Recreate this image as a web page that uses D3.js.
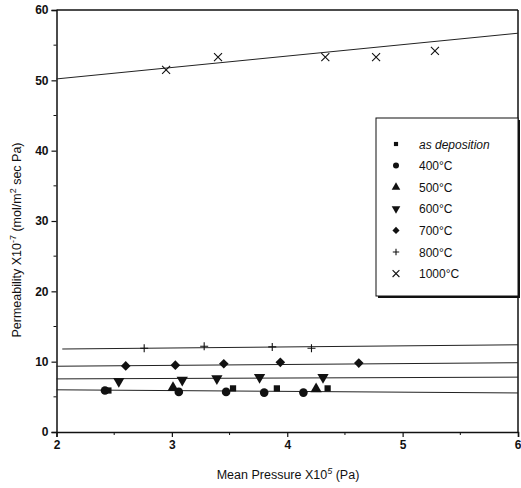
<!DOCTYPE html>
<html>
<head>
<meta charset="utf-8">
<script src="https://cdn.jsdelivr.net/npm/d3@7"></script>
<style>
  body { margin: 0; background: #fff; }
  svg { font-family: "Liberation Sans", Arial, sans-serif; }
</style>
</head>
<body>
<svg width="521" height="488"></svg>
<script>
// dados
const xTicks = [2, 3, 4, 5, 6];
const yTicks = [0, 10, 20, 30, 40, 50, 60];
const xMinor = [2.5, 3.5, 4.5, 5.5];
const yMinor = [5, 15, 25, 35, 45, 55];

const asDeposition = [[2.45, 5.9], [3.53, 6.2], [3.91, 6.2], [4.35, 6.2]];
const c400 = [[2.42, 5.9], [3.06, 5.7], [3.47, 5.7], [3.80, 5.6], [4.14, 5.6]];
const c500 = [[3.01, 6.3], [4.25, 6.1]];
const c600 = [[2.54, 7.2], [3.09, 7.4], [3.39, 7.6], [3.76, 7.8], [4.31, 7.8]];
const c700 = [[2.60, 9.4], [3.03, 9.5], [3.45, 9.7], [3.94, 9.9], [4.62, 9.8]];
const c800 = [[2.76, 11.9], [3.28, 12.2], [3.87, 12.1], [4.21, 11.9]];
const c1000 = [[2.95, 51.5], [3.40, 53.3], [4.33, 53.3], [4.77, 53.3], [5.28, 54.2]];

// retas ajustadas [x0, y0, x1, y1]
const fitLines = [
    [2, 50.2, 6, 56.7],
    [2.05, 11.8, 6, 12.4],
    [2, 9.35, 6, 9.85],
    [2, 7.55, 6, 7.8],
    [2, 6.0, 6, 5.55]
];

const legendLabels = ["as deposition", "400°C", "500°C", "600°C", "700°C", "800°C", "1000°C"];

const svg = d3.select("svg");

const xScale = d3.scaleLinear().domain([2, 6]).range([56.5, 518]);
const yScale = d3.scaleLinear().domain([0, 60]).range([432, 10]);

const ink = "#111";

// moldura superior e direita
svg.append("line")
    .attr("x1", xScale(2)).attr("x2", xScale(6))
    .attr("y1", yScale(60)).attr("y2", yScale(60))
    .attr("stroke", ink).attr("stroke-width", 1.5);
svg.append("line")
    .attr("x1", xScale(6)).attr("x2", xScale(6))
    .attr("y1", yScale(60)).attr("y2", yScale(0))
    .attr("stroke", ink).attr("stroke-width", 1.5);

// eixos
const xAxis = d3.axisBottom(xScale).tickValues(xTicks).tickFormat(d3.format("d")).tickSize(5).tickPadding(3);
const yAxis = d3.axisLeft(yScale).tickValues(yTicks).tickFormat(d3.format("d")).tickSize(5).tickPadding(3);

const gx = svg.append("g").attr("transform", `translate(0,${yScale(0)})`).call(xAxis);
const gy = svg.append("g").attr("transform", `translate(${xScale(2)},0)`).call(yAxis);

[gx, gy].forEach(g => {
    g.select(".domain").attr("stroke", ink).attr("stroke-width", 1.5);
    g.selectAll(".tick line").attr("stroke", ink).attr("stroke-width", 1.2);
    g.selectAll(".tick text")
        .attr("fill", ink)
        .style("font-size", "12px")
        .style("font-weight", "bold")
        .style("font-family", "'Liberation Sans', Arial, sans-serif");
});
// o "6" fica colado na borda
gx.selectAll(".tick text").filter(d => d === 6).attr("text-anchor", "end").attr("dx", "3");

// ticks menores
svg.append("g").selectAll("line")
    .data(xMinor).enter().append("line")
    .attr("x1", d => xScale(d)).attr("x2", d => xScale(d))
    .attr("y1", yScale(0)).attr("y2", yScale(0) + 3)
    .attr("stroke", ink);
svg.append("g").selectAll("line")
    .data(yMinor).enter().append("line")
    .attr("x1", xScale(2) - 3).attr("x2", xScale(2))
    .attr("y1", d => yScale(d)).attr("y2", d => yScale(d))
    .attr("stroke", ink);

// retas
svg.append("g").selectAll("line")
    .data(fitLines).enter().append("line")
    .attr("x1", d => xScale(d[0])).attr("y1", d => yScale(d[1]))
    .attr("x2", d => xScale(d[2])).attr("y2", d => yScale(d[3]))
    .attr("stroke", "#222").attr("stroke-width", 1);

// simbolos
function desenharMarcador(g, tipo, x, y, s) {
    if (tipo === "plus") {
        g.append("path")
            .attr("d", `M${x - s},${y}H${x + s}M${x},${y - s}V${y + s}`)
            .attr("stroke", ink).attr("stroke-width", 1.1).attr("fill", "none");
    } else if (tipo === "cross") {
        g.append("path")
            .attr("d", `M${x - s},${y - s}L${x + s},${y + s}M${x - s},${y + s}L${x + s},${y - s}`)
            .attr("stroke", ink).attr("stroke-width", 1.1).attr("fill", "none");
    } else if (tipo === "down") {
        g.append("path")
            .attr("d", d3.symbol().type(d3.symbolTriangle).size(s * s * 2.2)())
            .attr("transform", `translate(${x},${y}) rotate(180)`)
            .attr("fill", ink);
    } else if (tipo === "up") {
        g.append("path")
            .attr("d", d3.symbol().type(d3.symbolTriangle).size(s * s * 2.2)())
            .attr("transform", `translate(${x},${y})`)
            .attr("fill", ink);
    } else if (tipo === "diamond") {
        g.append("path")
            .attr("d", d3.symbol().type(d3.symbolSquare).size(s * s * 2.2)())
            .attr("transform", `translate(${x},${y}) rotate(45)`)
            .attr("fill", ink);
    } else if (tipo === "square") {
        g.append("path")
            .attr("d", d3.symbol().type(d3.symbolSquare).size(s * s * 3)())
            .attr("transform", `translate(${x},${y})`)
            .attr("fill", ink);
    } else {
        g.append("circle")
            .attr("cx", x).attr("cy", y).attr("r", s)
            .attr("fill", ink);
    }
}

const series = [
    {data: asDeposition, tipo: "square", s: 3.6},
    {data: c400, tipo: "circle", s: 4.3},
    {data: c500, tipo: "up", s: 5},
    {data: c600, tipo: "down", s: 5},
    {data: c700, tipo: "diamond", s: 4.6},
    {data: c800, tipo: "plus", s: 4},
    {data: c1000, tipo: "cross", s: 4}
];

const pontos = svg.append("g");
series.forEach(se => {
    se.data.forEach(p => desenharMarcador(pontos, se.tipo, xScale(p[0]), yScale(p[1]), se.s));
});

// legenda
const leg = svg.append("g");
leg.append("rect")
    .attr("x", 378).attr("y", 120).attr("width", 142).attr("height", 178)
    .attr("fill", ink);
leg.append("rect")
    .attr("x", 376).attr("y", 118).attr("width", 142).attr("height", 178)
    .attr("fill", "#fff").attr("stroke", ink).attr("stroke-width", 1);

const legSizes = [2.4, 3, 3.8, 3.8, 3.4, 3.2, 3.4];
legendLabels.forEach((lbl, i) => {
    const y = 144 + i * 21.6;
    desenharMarcador(leg, series[i].tipo, 396, y, legSizes[i]);
    leg.append("text")
        .attr("x", 419).attr("y", y + 4.5)
        .style("font-size", "12px")
        .style("font-style", i === 0 ? "italic" : "normal")
        .attr("fill", ink)
        .text(lbl);
});

// titulos dos eixos
const xt = svg.append("text")
    .attr("x", 288).attr("y", 479)
    .attr("text-anchor", "middle")
    .style("font-size", "12.5px")
    .attr("fill", ink);
xt.append("tspan").text("Mean Pressure X10");
xt.append("tspan").attr("baseline-shift", "super").style("font-size", "9px").style("font-style", "italic").text("5");
xt.append("tspan").text(" (Pa)");

const yt = svg.append("text")
    .attr("transform", `translate(21,${240}) rotate(-90)`)
    .attr("text-anchor", "middle")
    .style("font-size", "12.5px")
    .attr("fill", ink);
yt.append("tspan").text("Permeability X10");
yt.append("tspan").attr("baseline-shift", "super").style("font-size", "9px").text("-7");
yt.append("tspan").text(" (mol/m");
yt.append("tspan").attr("baseline-shift", "super").style("font-size", "9px").text("2");
yt.append("tspan").text(" sec Pa)");
</script>
</body>
</html>
